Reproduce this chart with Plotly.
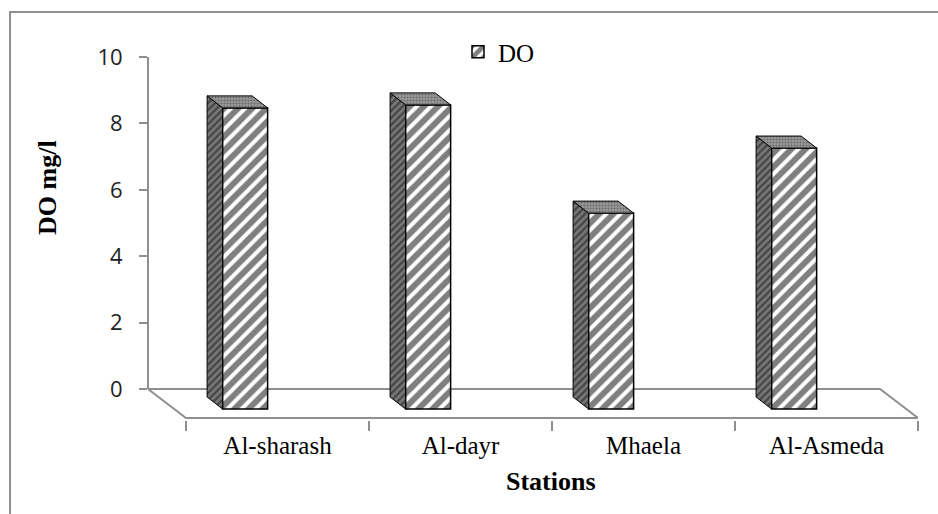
import plotly.graph_objects as go

# ---------------- data ----------------
stations = ["Al-sharash", "Al-dayr", "Mhaela", "Al-Asmeda"]
do_values = [9.07, 9.16, 5.90, 7.86]
y_ticks = [0, 2, 4, 6, 8, 10]
series_name = "DO"

# ---------------- geometry / style ----------------
W, H = 938, 514
PL, PR, PT, PB = 148, 918, 57, 420          # plot area in pixels
PX_X = 183.0                                # pixels per category
PX_Y = 33.2                                 # pixels per y unit
DEPTH_X = 38 / PX_X                         # floor depth (x shift)
DEPTH_Y = (418 - 389) / PX_Y                # floor depth (y shift)
x_range = [-0.5 - DEPTH_X, len(stations) - 0.5]
y_range = [-(PB - 389) / PX_Y, 10]

BAR_OFF = -0.30
BAR_W = 0.246
BASE = -20 / PX_Y
DX = 15.5 / PX_X
DY = 12 / PX_Y

GRAY = "#8f8f8f"
SERIF = "Liberation Serif"

xs = list(range(len(stations)))

def px2paper_x(px):
    return (px - PL) / (PR - PL)

def px2paper_y(py):
    return (PB - py) / (PB - PT)

fig = go.Figure()

# side faces and top caps of the 3-D columns
side_x, side_y, top_x, top_y = [], [], [], []
for x, v in zip(xs, do_values):
    xf = x + BAR_OFF
    side_x += [xf, xf, xf - DX, xf - DX, xf, None]
    side_y += [BASE, BASE + v, BASE + v + DY, BASE + DY, BASE, None]
    top_x += [xf, xf + BAR_W, xf + BAR_W - DX, xf - DX, xf, None]
    top_y += [BASE + v, BASE + v, BASE + v + DY, BASE + v + DY, BASE + v, None]

fig.add_trace(go.Scatter(
    x=side_x, y=side_y, mode="lines", fill="toself",
    line=dict(color="black", width=1),
    fillcolor="#6a6a6a",
    fillpattern=dict(shape="/", fgcolor="#111111", bgcolor="#777777", size=5, solidity=0.45),
    showlegend=False, hoverinfo="skip"))

fig.add_trace(go.Scatter(
    x=top_x, y=top_y, mode="lines", fill="toself",
    line=dict(color="black", width=1),
    fillcolor="#8a8a8a",
    fillpattern=dict(shape=".", fgcolor="#3a3a3a", bgcolor="#9a9a9a", size=3, solidity=0.4),
    showlegend=False, hoverinfo="skip"))

# front faces
fig.add_trace(go.Bar(
    x=xs, y=do_values, base=BASE, width=BAR_W, offset=BAR_OFF,
    name=series_name,
    marker=dict(color="white",
                line=dict(color="black", width=1.5),
                pattern=dict(shape="/", fgcolor="black", bgcolor="white", size=10, solidity=0.6)),
    hoverinfo="skip"))

boundaries = [x - 0.5 for x in xs] + [xs[-1] + 0.5]

fig.update_layout(
    width=W, height=H,
    margin=dict(l=PL, r=W - PR, t=PT, b=H - PB, pad=0),
    paper_bgcolor="white", plot_bgcolor="rgba(0,0,0,0)",
    showlegend=True,
    legend=dict(x=px2paper_x(458), y=px2paper_y(29), xanchor="left", yanchor="top",
                bgcolor="rgba(0,0,0,0)", font=dict(family=SERIF, size=25, color="black")),
    xaxis=dict(range=x_range, tickmode="array", tickvals=xs, ticktext=stations,
               ticks="", showline=False, showgrid=False, zeroline=False,
               ticklabelstandoff=8,
               tickfont=dict(family=SERIF, size=25, color="black"),
               minor=dict(tickmode="array", tickvals=boundaries, ticks="outside",
                          ticklen=10, tickwidth=2, tickcolor=GRAY, showgrid=False)),
    yaxis=dict(range=y_range, tickmode="array", tickvals=y_ticks,
               ticks="outside", ticklen=8, tickwidth=2, tickcolor=GRAY,
               showline=False, showgrid=False, zeroline=False,
               ticklabelstandoff=12,
               tickfont=dict(family="Open Sans", size=22, color="#222222")),
    shapes=[
        # outer chart border
        dict(type="rect", xref="paper", yref="paper",
             x0=px2paper_x(10), x1=px2paper_x(980), y0=px2paper_y(560), y1=px2paper_y(12),
             line=dict(color=GRAY, width=2), layer="below"),
        # value axis line
        dict(type="line", xref="paper", yref="y", x0=0, x1=0, y0=0, y1=10,
             line=dict(color=GRAY, width=2), layer="below"),
        # floor
        dict(type="path", xref="x", yref="y",
             path=f"M {x_range[0]},0 L {x_range[1] - DEPTH_X},0 L {x_range[1]},{-DEPTH_Y} "
                  f"L {-0.5},{-DEPTH_Y} Z",
             line=dict(color=GRAY, width=2), layer="below"),
    ],
    annotations=[
        dict(text="<b>DO mg/l</b>", xref="paper", yref="paper",
             x=px2paper_x(47), y=px2paper_y(188), textangle=-90, showarrow=False,
             xanchor="center", yanchor="middle",
             font=dict(family=SERIF, size=26, color="black")),
        dict(text="<b>Stations</b>", xref="paper", yref="paper",
             x=px2paper_x(551), y=px2paper_y(481), showarrow=False,
             xanchor="center", yanchor="middle",
             font=dict(family=SERIF, size=26, color="black")),
    ],
)

fig.write_html("out.html", config={"displayModeBar": False},
               post_script="document.body.style.margin='0px';")
